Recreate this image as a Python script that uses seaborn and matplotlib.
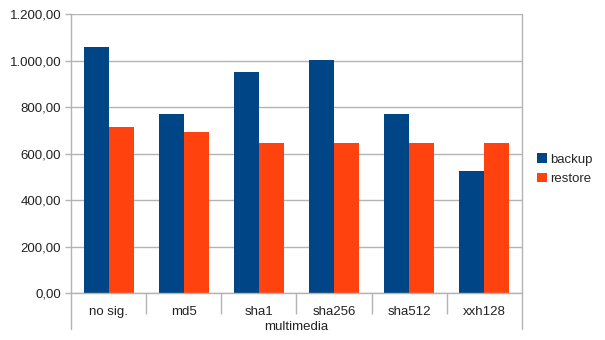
import matplotlib
matplotlib.use("Agg")
import matplotlib.pyplot as plt
import seaborn as sns
import pandas as pd
from matplotlib.patches import Patch

categories = ["no sig.", "md5", "sha1", "sha256", "sha512", "xxh128"]
backup = [1058, 771, 952, 1005, 771, 527]
restore = [716, 692, 646, 646, 646, 646]
series = ["backup", "restore"]
colors = ["#004586", "#ff420e"]
yticks = [0, 200, 400, 600, 800, 1000, 1200]
ytick_labels = ["0,00", "200,00", "400,00", "600,00", "800,00", "1.000,00", "1.200,00"]

df = pd.DataFrame({
    "cat": categories * 2,
    "value": backup + restore,
    "series": ["backup"] * len(categories) + ["restore"] * len(categories),
})

sns.set_style("white")
plt.rcParams["font.family"] = ["Liberation Sans", "DejaVu Sans"]

fig = plt.figure(figsize=(6.05, 3.4), dpi=100)
ax = fig.add_axes([71 / 605, (340 - 293.3) / 340, (522 - 71) / 605, (293.3 - 14.3) / 340])

sns.barplot(data=df, x="cat", y="value", hue="series", palette=colors,
            width=0.667, saturation=1, ax=ax, legend=False, zorder=3)
for p in ax.patches:
    p.set_edgecolor("none")

grid = "#b3b3b3"
ax.set_ylim(0, 1200)
ax.set_xlim(-0.5, 5.5)
ax.set_yticks(yticks)
ax.set_yticklabels(ytick_labels)
ax.yaxis.grid(True, color=grid, linewidth=1)
ax.set_axisbelow(True)
for s in ax.spines.values():
    s.set_visible(False)

ax.tick_params(axis="y", which="major", length=4, width=1, color=grid, pad=3,
               labelsize=9.5, labelcolor="#222222", left=True)
ax.tick_params(axis="x", which="major", length=0, pad=9, labelsize=9.5, labelcolor="#222222")
ax.set_xticks([i + 0.5 for i in range(len(categories) - 1)], minor=True)
ax.tick_params(axis="x", which="minor", length=15, width=1, color=grid, direction="out", bottom=True)

ax.set_xlabel("multimedia", fontsize=9.5, color="#222222", labelpad=1.5)
ax.set_ylabel("")

# axis lines (left, right extended below)
ext = -36 / 279
ax.plot([0, 0], [ext, 1], transform=ax.transAxes, color=grid, lw=1, clip_on=False, zorder=5)
ax.plot([1, 1], [ext, 1], transform=ax.transAxes, color=grid, lw=1, clip_on=False, zorder=5)
ax.plot([0, 1], [0, 0], transform=ax.transAxes, color=grid, lw=1, clip_on=False, zorder=5)

handles = [Patch(facecolor=c, edgecolor="none", label=l) for c, l in zip(colors, series)]
ax.legend(handles=handles, loc="center left", bbox_to_anchor=(1.022, 0.445),
          frameon=False, fontsize=9.5, handlelength=0.75, handleheight=0.75,
          handletextpad=0.25, labelspacing=0.55, borderaxespad=0)

fig.savefig("out.png", dpi=100)
